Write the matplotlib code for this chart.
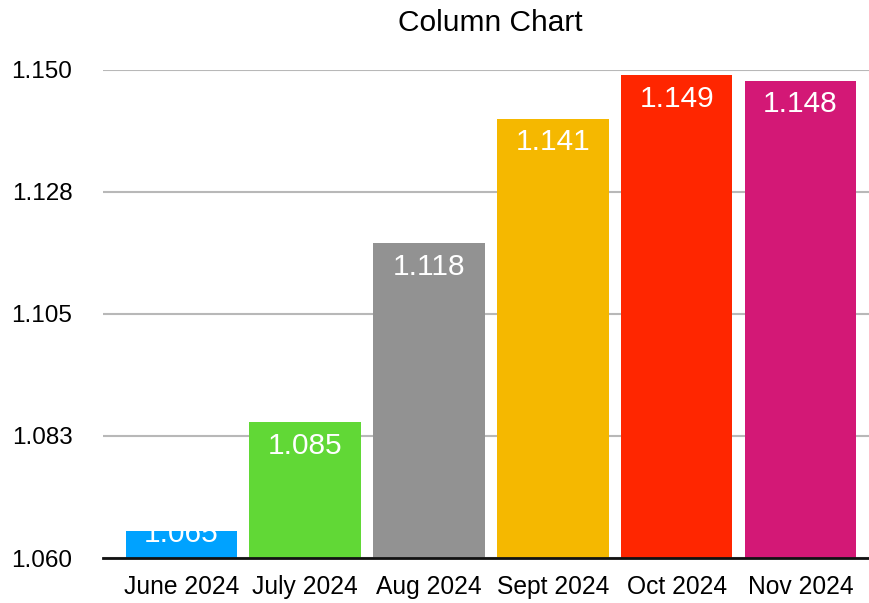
import matplotlib.pyplot as plt

# data
months = ["June 2024", "July 2024", "Aug 2024", "Sept 2024", "Oct 2024", "Nov 2024"]
values = [1.065, 1.085, 1.118, 1.141, 1.149, 1.148]
colors = ["#00A2FF", "#61D836", "#929292", "#F5B800", "#FF2600", "#D31876"]
yticks = [1.060, 1.0825, 1.105, 1.1275, 1.150]
ytick_labels = ["1.060", "1.083", "1.105", "1.128", "1.150"]

plt.rcParams["font.family"] = ["Liberation Sans", "DejaVu Sans"]

fig = plt.figure(figsize=(8.7, 6.03), dpi=100)
ax = fig.add_axes([0.1184, 0.0746, 0.880, 0.8094])

x = list(range(len(months)))
ax.bar(x, values, width=0.9, color=colors, zorder=3)

ymin, ymax = 1.060, 1.150
ax.set_ylim(ymin, ymax)
ax.set_xlim(-0.632, 5.55)

for xi, v in zip(x, values):
    ly = max(v - 0.0043, ymin + 0.0044)
    ax.text(xi, ly, f"{v:.3f}", ha="center", va="center", color="white",
            fontsize=21.5, zorder=4)

ax.set_yticks(yticks)
ax.set_yticklabels(ytick_labels)
ax.set_xticks(x)
ax.set_xticklabels(months)
ax.tick_params(axis="y", length=0, pad=22, labelsize=17.5)
ax.tick_params(axis="x", length=0, pad=12, labelsize=17.7)
ax.yaxis.grid(True, color="#b8b8b8", linewidth=1.5, zorder=0)
for s in ["top", "right", "left"]:
    ax.spines[s].set_visible(False)
ax.spines["bottom"].set_linewidth(2)
ax.spines["bottom"].set_color("#111111")
ax.spines["bottom"].set_zorder(5)

fig.text(0.564, 0.962, "Column Chart", ha="center", va="center", fontsize=21.5)

fig.savefig("out.png", dpi=100)
